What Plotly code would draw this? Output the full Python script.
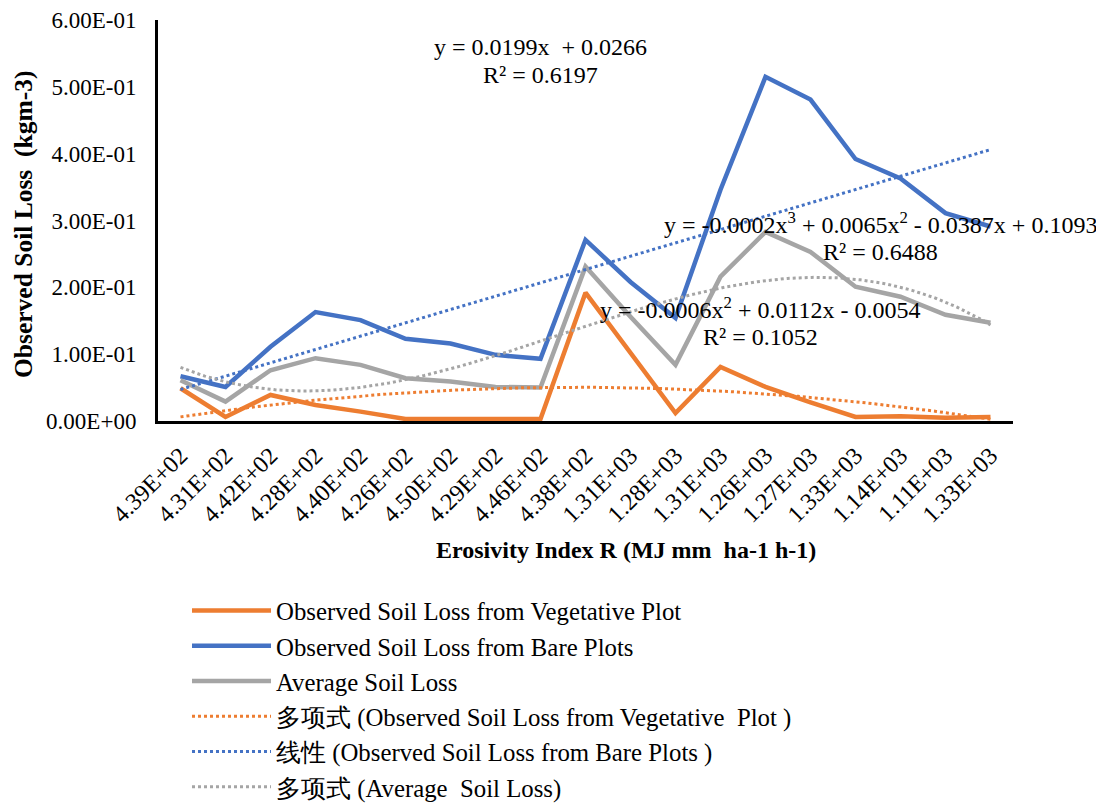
import numpy as np
import plotly.graph_objects as go

categories = ["4.39E+02", "4.31E+02", "4.42E+02", "4.28E+02", "4.40E+02", "4.26E+02",
              "4.50E+02", "4.29E+02", "4.46E+02", "4.38E+02", "1.31E+03", "1.28E+03",
              "1.31E+03", "1.26E+03", "1.27E+03", "1.33E+03", "1.14E+03", "1.11E+03",
              "1.33E+03"]
vegetative = [0.049, 0.006, 0.039, 0.024, 0.014, 0.003, 0.003, 0.003, 0.003, 0.192,
              0.103, 0.012, 0.081, 0.051, 0.028, 0.006, 0.007, 0.005, 0.006]
bare = [0.067, 0.051, 0.111, 0.163, 0.151, 0.123, 0.116, 0.099, 0.093, 0.271,
        0.208, 0.154, 0.346, 0.515, 0.481, 0.392, 0.363, 0.311, 0.291]
average = [0.061, 0.029, 0.076, 0.094, 0.084, 0.064, 0.059, 0.051, 0.050, 0.231,
           0.156, 0.084, 0.216, 0.283, 0.253, 0.201, 0.186, 0.159, 0.147]
y_tickvals = [0.0, 0.1, 0.2, 0.3, 0.4, 0.5, 0.6]
y_ticktext = ["0.00E+00", "1.00E-01", "2.00E-01", "3.00E-01", "4.00E-01", "5.00E-01", "6.00E-01"]

ORANGE = "#ED7D31"
BLUE = "#4472C4"
GREY = "#A5A5A5"
FONT = "Times New Roman, Liberation Serif, Tinos, Noto Serif, DejaVu Serif, serif"

xs = np.arange(1, len(categories) + 1)
xd = np.linspace(1, len(categories), 300)

fit_veg = np.polyval(np.polyfit(xs, vegetative, 2), xd)
fit_bare = np.polyval(np.polyfit(xs, bare, 1), xd)
fit_avg = np.polyval(np.polyfit(xs, average, 3), xd)

fig = go.Figure()
fig.add_trace(go.Scatter(x=xs, y=vegetative, mode="lines", name="Observed Soil Loss from Vegetative Plot",
                         line=dict(color=ORANGE, width=4.5)))
fig.add_trace(go.Scatter(x=xs, y=bare, mode="lines", name="Observed Soil Loss from Bare Plots",
                         line=dict(color=BLUE, width=4.5)))
fig.add_trace(go.Scatter(x=xs, y=average, mode="lines", name="Average Soil Loss",
                         line=dict(color=GREY, width=4.5)))
fig.add_trace(go.Scatter(x=xd, y=fit_veg, mode="lines", name="多项式 (Observed Soil Loss from Vegetative  Plot )",
                         line=dict(color=ORANGE, width=3, dash="dot")))
fig.add_trace(go.Scatter(x=xd, y=fit_bare, mode="lines", name="线性 (Observed Soil Loss from Bare Plots )",
                         line=dict(color=BLUE, width=3, dash="dot")))
fig.add_trace(go.Scatter(x=xd, y=fit_avg, mode="lines", name="多项式 (Average  Soil Loss)",
                         line=dict(color=GREY, width=3, dash="dot")))

# page body has an 8px margin: screen coords = figure coords + 8
OFF = 8
SL, ST, SR, SB = 158, 20, 1013, 421     # plot area in screen pixels
W, H = 1104, 803
L, T = SL - OFF, ST - OFF
R, B = W - (SR - OFF), H - (SB - OFF)
pw, ph = SR - SL, SB - ST


def px(sx):
    return (sx - SL) / pw


def py(sy):
    return 1 - (sy - ST) / ph


ann_font = dict(family=FONT, size=24, color="#000000")
annotations = [
    dict(x=540, y=47, text="y = 0.0199x  + 0.0266"),
    dict(x=540, y=75, text="R² = 0.6197"),
    dict(x=880, y=223, text="y = -0.0002x<sup>3</sup> + 0.0065x<sup>2</sup> - 0.0387x + 0.1093"),
    dict(x=880, y=252, text="R² = 0.6488"),
    dict(x=760, y=308, text="y = -0.0006x<sup>2</sup> + 0.0112x - 0.0054"),
    dict(x=760, y=337, text="R² = 0.1052"),
]
ann_list = []
for a in annotations:
    ann_list.append(dict(
        xref="paper", yref="paper", x=px(a["x"]), y=py(a["y"]),
        text=a["text"], showarrow=False, font=ann_font,
        xanchor="center", yanchor="middle"))

# axis titles as annotations (the x title sits right of the plot centre)
ann_list.append(dict(
    xref="paper", yref="paper", x=px(626), y=py(550),
    text="<b>Erosivity Index R (MJ mm  ha-1 h-1)</b>", showarrow=False,
    font=dict(family=FONT, size=24, color="#000000"),
    xanchor="center", yanchor="middle"))
ann_list.append(dict(
    xref="paper", yref="paper", x=px(23), y=py(225),
    text="<b>Observed Soil Loss  (kgm-3)</b>", showarrow=False, textangle=-90,
    font=dict(family=FONT, size=25.5, color="#000000"),
    xanchor="center", yanchor="middle"))

fig.update_layout(
    width=W, height=H,
    margin=dict(l=L, r=R, t=T, b=B, autoexpand=False),
    paper_bgcolor="white", plot_bgcolor="white",
    font=dict(family=FONT, size=24, color="#000000"),
    showlegend=True,
    legend=dict(x=px(187), y=py(588), xanchor="left", yanchor="top",
                itemwidth=79,
                font=dict(family=FONT, size=24.8, color="#000000"),
                bgcolor="rgba(0,0,0,0)", traceorder="normal"),
    annotations=ann_list,
    xaxis=dict(
        range=[0.5, len(categories) + 0.5],
        tickmode="array", tickvals=xs, ticktext=categories,
        tickangle=-45, showgrid=False, zeroline=False, automargin=False,
        showline=True, linecolor="#000000", linewidth=3,
        ticks="", ticklabelstandoff=8, ticklabeloverflow="allow",
        tickfont=dict(family=FONT, size=24, color="#000000"),
    ),
    yaxis=dict(
        range=[0, 0.6],
        tickmode="array", tickvals=y_tickvals, ticktext=y_ticktext,
        showgrid=False, zeroline=False, automargin=False,
        showline=True, linecolor="#000000", linewidth=3,
        ticks="", ticklabelstandoff=14, ticklabeloverflow="allow",
        tickfont=dict(family=FONT, size=23, color="#000000"),
    ),
)

fig.write_html("out.html")
